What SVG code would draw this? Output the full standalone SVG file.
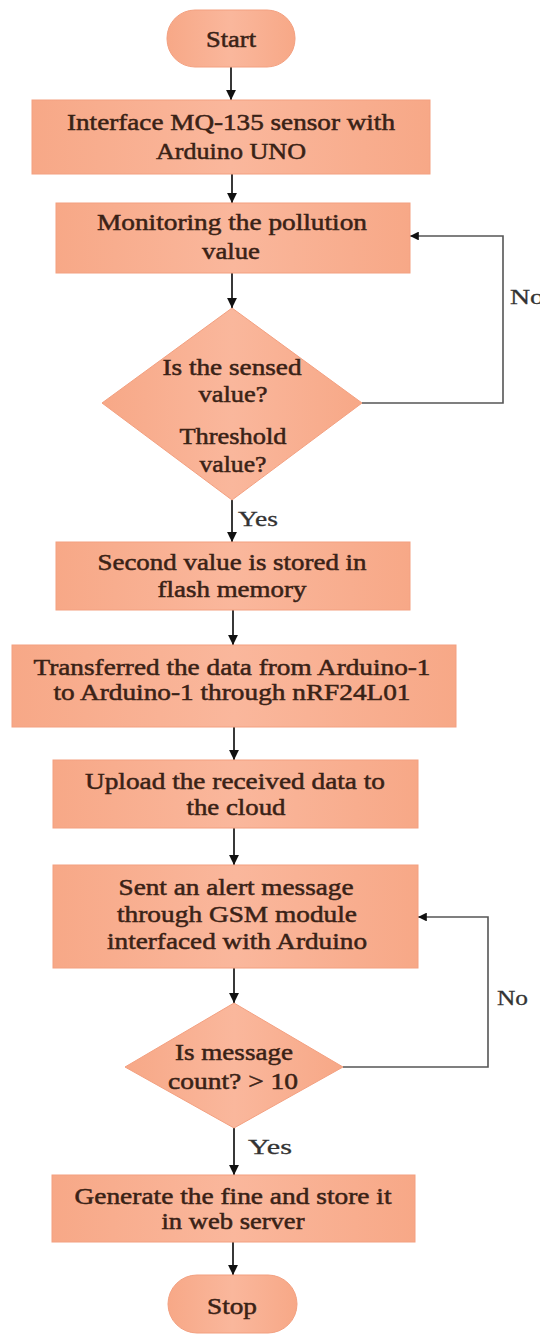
<svg xmlns="http://www.w3.org/2000/svg" width="540" height="1335" viewBox="0 0 540 1335">
<style>
.n{fill:url(#g);stroke:#F3A080;stroke-width:1}
.t{font-family:'Liberation Serif','Times New Roman',Times,serif;font-size:23px;fill:#3a2216;text-anchor:middle;stroke:#3a2216;stroke-width:0.5}
.l{font-family:'Liberation Serif','Times New Roman',Times,serif;font-size:22px;fill:#333;stroke:#333;stroke-width:0.3}
.c{fill:none;stroke:#222;stroke-width:1.8}
.f{fill:none;stroke:#555;stroke-width:1.6}
</style>
<defs>
<linearGradient id="g" x1="0" y1="0" x2="1" y2="0">
<stop offset="0" stop-color="#F7A887"/>
<stop offset="0.5" stop-color="#FAB79C"/>
<stop offset="1" stop-color="#F7A887"/>
</linearGradient>
<marker id="a" viewBox="0 0 10 10" refX="10" refY="5" markerWidth="5.5" markerHeight="5.5" orient="auto" markerUnits="strokeWidth">
<path d="M0,0 L10,5 L0,10 z" fill="#111"/>
</marker>
</defs>
<g id="connectors">
<path class="c" d="M231,67 V100" marker-end="url(#a)"/>
<path class="c" d="M232,174 V203" marker-end="url(#a)"/>
<path class="c" d="M232,273 V308" marker-end="url(#a)"/>
<path class="c" d="M232,500 V542" marker-end="url(#a)"/>
<path class="c" d="M233,610 V645" marker-end="url(#a)"/>
<path class="c" d="M234,727 V760" marker-end="url(#a)"/>
<path class="c" d="M234,828 V865" marker-end="url(#a)"/>
<path class="c" d="M234,968 V1003" marker-end="url(#a)"/>
<path class="c" d="M234,1128 V1175" marker-end="url(#a)"/>
<path class="c" d="M233,1242 V1275" marker-end="url(#a)"/>
<path class="f" d="M362,403 H503 V236 H410" marker-end="url(#a)"/>
<path class="f" d="M343,1067 H488 V917 H418" marker-end="url(#a)"/>
<text class="l" x="238" y="526" textLength="40" lengthAdjust="spacingAndGlyphs">Yes</text>
<text class="l" x="510" y="304" textLength="34" lengthAdjust="spacingAndGlyphs">No</text>
<text class="l" x="497" y="1005" textLength="31" lengthAdjust="spacingAndGlyphs">No</text>
<text class="l" x="248" y="1154" textLength="44" lengthAdjust="spacingAndGlyphs">Yes</text>
</g>
<g id="start">
<rect class="n" x="167" y="10" width="128" height="57" rx="28" ry="28"/>
<text class="t" x="231" y="47" textLength="50" lengthAdjust="spacingAndGlyphs">Start</text>
</g>
<g id="interface">
<rect class="n" x="32" y="100" width="398" height="74"/>
<text class="t" x="231" y="130" textLength="328" lengthAdjust="spacingAndGlyphs">Interface MQ-135 sensor with</text>
<text class="t" x="231" y="159" textLength="150" lengthAdjust="spacingAndGlyphs">Arduino UNO</text>
</g>
<g id="monitor">
<rect class="n" x="56" y="203" width="354" height="70"/>
<text class="t" x="232" y="230" textLength="270" lengthAdjust="spacingAndGlyphs">Monitoring the pollution</text>
<text class="t" x="231" y="259" textLength="58" lengthAdjust="spacingAndGlyphs">value</text>
</g>
<g id="decision1">
<polygon class="n" points="232,308 362,403 232,500 102,403"/>
<text class="t" x="232" y="375" textLength="139" lengthAdjust="spacingAndGlyphs">Is the sensed</text>
<text class="t" x="233" y="402" textLength="69" lengthAdjust="spacingAndGlyphs">value?</text>
<text class="t" x="233" y="444" textLength="107" lengthAdjust="spacingAndGlyphs">Threshold</text>
<text class="t" x="233" y="472" textLength="67" lengthAdjust="spacingAndGlyphs">value?</text>
</g>
<g id="store">
<rect class="n" x="56" y="542" width="354" height="68"/>
<text class="t" x="232" y="570" textLength="269" lengthAdjust="spacingAndGlyphs">Second value is stored in</text>
<text class="t" x="232" y="597" textLength="149" lengthAdjust="spacingAndGlyphs">flash memory</text>
</g>
<g id="transfer">
<rect class="n" x="12" y="645" width="444" height="82"/>
<text class="t" x="232" y="675" textLength="397" lengthAdjust="spacingAndGlyphs">Transferred the data from Arduino-1</text>
<text class="t" x="232" y="700" textLength="357" lengthAdjust="spacingAndGlyphs">to Arduino-1 through nRF24L01</text>
</g>
<g id="upload">
<rect class="n" x="53" y="760" width="365" height="68"/>
<text class="t" x="235" y="789" textLength="300" lengthAdjust="spacingAndGlyphs">Upload the received data to</text>
<text class="t" x="236" y="815" textLength="99" lengthAdjust="spacingAndGlyphs">the cloud</text>
</g>
<g id="alert">
<rect class="n" x="53" y="865" width="365" height="103"/>
<text class="t" x="236" y="895" textLength="235" lengthAdjust="spacingAndGlyphs">Sent an alert message</text>
<text class="t" x="237" y="922" textLength="240" lengthAdjust="spacingAndGlyphs">through GSM module</text>
<text class="t" x="237" y="949" textLength="260" lengthAdjust="spacingAndGlyphs">interfaced with Arduino</text>
</g>
<g id="decision2">
<polygon class="n" points="234,1003 343,1067 234,1128 125,1067"/>
<text class="t" x="234" y="1060" textLength="118" lengthAdjust="spacingAndGlyphs">Is message</text>
<text class="t" x="233" y="1089" textLength="130" lengthAdjust="spacingAndGlyphs">count? &gt; 10</text>
</g>
<g id="fine">
<rect class="n" x="52" y="1175" width="363" height="67"/>
<text class="t" x="233" y="1204" textLength="317" lengthAdjust="spacingAndGlyphs">Generate the fine and store it</text>
<text class="t" x="233" y="1229" textLength="143" lengthAdjust="spacingAndGlyphs">in web server</text>
</g>
<g id="stop">
<rect class="n" x="168" y="1275" width="129" height="58" rx="29" ry="29"/>
<text class="t" x="232" y="1314" textLength="50" lengthAdjust="spacingAndGlyphs">Stop</text>
</g>
</svg>
